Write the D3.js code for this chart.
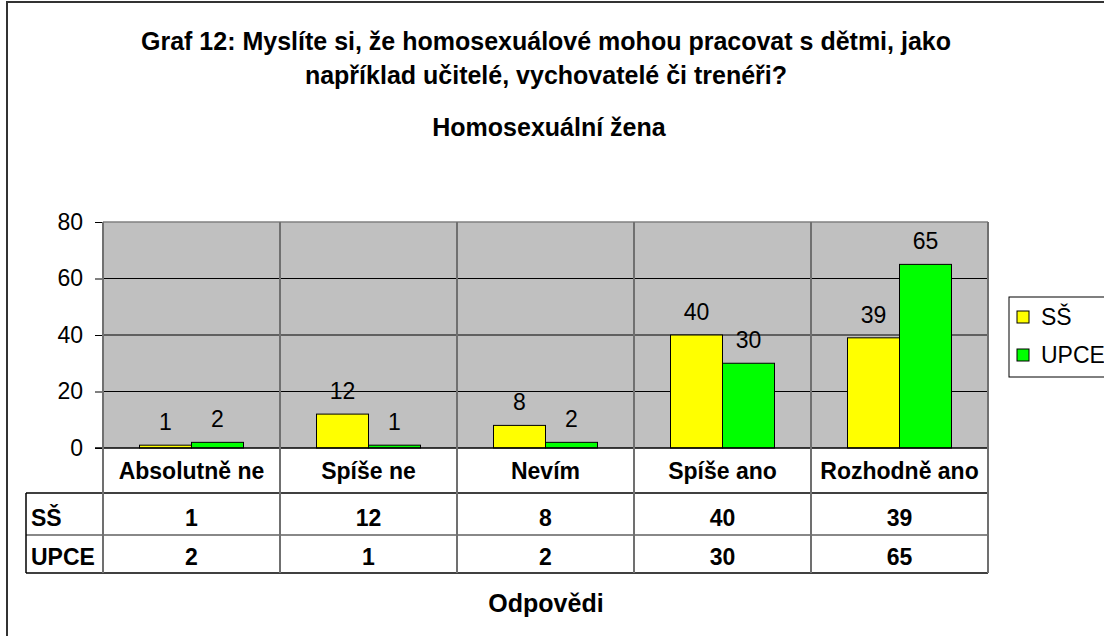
<!DOCTYPE html>
<html>
<head>
<meta charset="utf-8">
<script src="https://cdn.jsdelivr.net/npm/d3@7"></script>
<style>
  body { margin: 0; background: #fff; }
  svg { display: block; font-family: "Liberation Sans", Arial, sans-serif; }
</style>
</head>
<body>
<div id="chart"></div>
<script>
const categories = ["Absolutně ne", "Spíše ne", "Nevím", "Spíše ano", "Rozhodně ano"];
const seriesNames = ["SŠ", "UPCE"];
const ssValues = [1, 12, 8, 40, 39];
const upceValues = [2, 1, 2, 30, 65];
const yTicks = [0, 20, 40, 60, 80];
const seriesColors = ["#ffff00", "#00ff00"];

const canvas = { w: 1104, h: 636 };
const plot = { left: 103, right: 988, top: 222, bottom: 448 };
const rowY = [448, 493, 535, 573];   // table rows: labels, SŠ, UPCE
const tableLeft = 26;

const series = [ssValues, upceValues];

const svg = d3.select("#chart")
    .append("svg")
    .attr("width", canvas.w)
    .attr("height", canvas.h);

svg.append("rect")
    .attr("width", canvas.w).attr("height", canvas.h)
    .attr("fill", "#fff");

// outer frame (runs off the right and bottom edges)
svg.append("rect")
    .attr("x", 7).attr("y", 2)
    .attr("width", 1140).attr("height", 660)
    .attr("fill", "none")
    .attr("stroke", "#333")
    .attr("stroke-width", 2);

// titles
const title = svg.append("g")
    .attr("font-weight", "bold")
    .attr("font-size", 25)
    .attr("text-anchor", "middle")
    .attr("fill", "#000");
title.append("text").attr("x", 546).attr("y", 50)
    .text("Graf 12: Myslíte si, že homosexuálové mohou pracovat s dětmi, jako");
title.append("text").attr("x", 546).attr("y", 84)
    .text("například učitelé, vychovatelé či trenéři?");
title.append("text").attr("x", 549).attr("y", 136)
    .text("Homosexuální žena");
title.append("text").attr("x", 546).attr("y", 612)
    .text("Odpovědi");

const x = d3.scaleBand()
    .domain(categories)
    .range([plot.left, plot.right]);

const xSub = d3.scaleBand()
    .domain(seriesNames)
    .range([36.5, x.bandwidth() - 36.5]);

const y = d3.scaleLinear()
    .domain([0, 80])
    .range([plot.bottom, plot.top]);

// plot background
svg.append("rect")
    .attr("x", plot.left).attr("y", plot.top)
    .attr("width", plot.right - plot.left)
    .attr("height", plot.bottom - plot.top)
    .attr("fill", "#c0c0c0");

// horizontal gridlines
svg.append("g")
    .selectAll("line")
    .data(yTicks.filter(d => d > 0 && d < 80))
    .join("line")
    .attr("x1", plot.left).attr("x2", plot.right)
    .attr("y1", d => y(d)).attr("y2", d => y(d))
    .attr("stroke", "#000")
    .attr("stroke-width", 1);

svg.append("line")
    .attr("x1", plot.left).attr("x2", plot.right)
    .attr("y1", y(80)).attr("y2", y(80))
    .attr("stroke", "#808080").attr("stroke-width", 1.5);

// y axis
const yAxis = svg.append("g")
    .attr("transform", `translate(${plot.left},0)`)
    .call(d3.axisLeft(y).tickValues(yTicks).tickSize(8).tickPadding(12));
yAxis.select(".domain").remove();
yAxis.selectAll(".tick line").attr("stroke", "#000");
yAxis.selectAll(".tick text")
    .attr("font-size", 23)
    .attr("font-family", "Liberation Sans, Arial, sans-serif")
    .attr("fill", "#000");

// bars
const groups = svg.append("g")
    .selectAll("g")
    .data(categories)
    .join("g")
    .attr("transform", d => `translate(${x(d)},0)`);

groups.selectAll("rect")
    .data((d, i) => seriesNames.map((s, j) => ({ s, v: series[j][i] })))
    .join("rect")
    .attr("x", d => xSub(d.s))
    .attr("width", xSub.bandwidth())
    .attr("y", d => y(d.v))
    .attr("height", d => y(0) - y(d.v))
    .attr("fill", (d, j) => seriesColors[j])
    .attr("stroke", "#000")
    .attr("stroke-width", 1);

groups.selectAll("text")
    .data((d, i) => seriesNames.map((s, j) => ({ s, v: series[j][i] })))
    .join("text")
    .attr("x", d => xSub(d.s) + xSub.bandwidth() / 2)
    .attr("y", d => y(d.v) - 15)
    .attr("text-anchor", "middle")
    .attr("font-size", 23)
    .attr("fill", "#000")
    .text(d => d.v);

// table lines
const table = svg.append("g");
table.append("line")
    .attr("x1", plot.left - 8).attr("x2", plot.right)
    .attr("y1", rowY[0]).attr("y2", rowY[0])
    .attr("stroke", "#000").attr("stroke-width", 1.5);
table.append("line")
    .attr("x1", tableLeft).attr("x2", plot.right)
    .attr("y1", rowY[1]).attr("y2", rowY[1])
    .attr("stroke", "#000").attr("stroke-width", 1.5);
table.append("line")
    .attr("x1", tableLeft).attr("x2", plot.right)
    .attr("y1", rowY[2]).attr("y2", rowY[2])
    .attr("stroke", "#606060").attr("stroke-width", 1.5);
table.append("line")
    .attr("x1", tableLeft).attr("x2", plot.right)
    .attr("y1", rowY[3]).attr("y2", rowY[3])
    .attr("stroke", "#000").attr("stroke-width", 1.5);
table.append("line")
    .attr("x1", tableLeft).attr("x2", tableLeft)
    .attr("y1", rowY[1]).attr("y2", rowY[3])
    .attr("stroke", "#000").attr("stroke-width", 1.5);

// vertical category separators
table.selectAll("line.sep")
    .data(categories.map(d => x(d)).concat([plot.right]))
    .join("line")
    .attr("class", "sep")
    .attr("x1", d => d).attr("x2", d => d)
    .attr("y1", plot.top).attr("y2", rowY[3])
    .attr("stroke", "#707070")
    .attr("stroke-width", 2);

// table text
const tt = svg.append("g")
    .attr("font-weight", "bold")
    .attr("font-size", 23)
    .attr("fill", "#000");

tt.selectAll("text.cat")
    .data(categories)
    .join("text")
    .attr("class", "cat")
    .attr("x", d => x(d) + x.bandwidth() / 2)
    .attr("y", 479)
    .attr("text-anchor", "middle")
    .text(d => d);

const rowBase = [526, 565];
seriesNames.forEach((name, j) => {
    tt.append("text")
        .attr("x", 31)
        .attr("y", rowBase[j])
        .text(name);
    tt.selectAll(`text.v${j}`)
        .data(series[j])
        .join("text")
        .attr("class", `v${j}`)
        .attr("x", (d, i) => x(categories[i]) + x.bandwidth() / 2)
        .attr("y", rowBase[j])
        .attr("text-anchor", "middle")
        .text(d => d);
});

// legend
const legend = svg.append("g").attr("transform", "translate(1009,297)");
legend.append("rect")
    .attr("width", 130).attr("height", 80)
    .attr("fill", "#fff")
    .attr("stroke", "#000")
    .attr("stroke-width", 1);
const items = legend.selectAll("g")
    .data(seriesNames)
    .join("g")
    .attr("transform", (d, i) => `translate(8,${14 + i * 38})`);
items.append("rect")
    .attr("width", 12).attr("height", 12)
    .attr("fill", (d, i) => seriesColors[i])
    .attr("stroke", "#000");
items.append("text")
    .attr("x", 24).attr("y", 14)
    .attr("font-size", 23)
    .attr("fill", "#000")
    .text(d => d);
</script>
</body>
</html>
